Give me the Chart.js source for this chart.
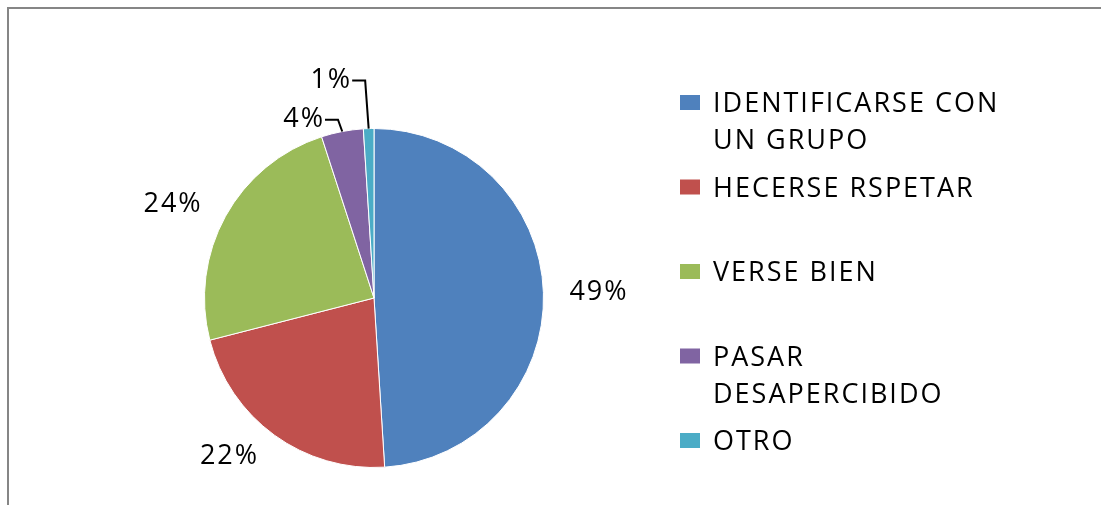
<!DOCTYPE html>
<html>
<head>
<meta charset="utf-8">
<script src="https://cdn.jsdelivr.net/npm/chart.js@4"></script>
<style>
  body { margin: 0; background: #fff; }
  #wrap { position: relative; width: 1101px; height: 505px; overflow: hidden; }
  #frame { position: absolute; left: 7px; top: 7px; width: 1200px; height: 600px; border: 2px solid #868686; }
  canvas { position: absolute; left: 0; top: 0; }
</style>
</head>
<body>
<div id="wrap">
  <div id="frame"></div>
  <canvas id="pie" width="1101" height="505"></canvas>
</div>
<script>
const categories = [
    ["IDENTIFICARSE CON", "UN GRUPO"],
    ["HECERSE RSPETAR"],
    ["VERSE BIEN"],
    ["PASAR", "DESAPERCIBIDO"],
    ["OTRO"]
]
const percents = [49, 22, 24, 4, 1]
const colors = ["#4F81BD", "#C0504D", "#9BBB59", "#8064A2", "#4BACC6"]

const FONT = "27px 'Open Sans'"
const SPACING = "2px"

// percentage labels outside the slices, small ones get a leader line
const outsideLabels = {
    id: "outsideLabels",
    afterDatasetsDraw(chart) {
        const ctx = chart.ctx
        const arcs = chart.getDatasetMeta(0).data
        const vals = chart.data.datasets[0].data
        ctx.save()
        ctx.font = FONT
        ctx.letterSpacing = SPACING
        ctx.fillStyle = "#000"
        ctx.strokeStyle = "#000"
        ctx.lineWidth = 2
        ctx.textBaseline = "middle"
        let small = 0
        arcs.forEach((arc, i) => {
            const mid = (arc.startAngle + arc.endAngle) / 2
            const dx = Math.cos(mid), dy = Math.sin(mid)
            const r = arc.outerRadius
            const txt = vals[i] + "%"
            if (vals[i] < 5) {
                // first small slice gets a short leader, next one a long one
                const len = small === 0 ? 12 : 48
                small++
                const ex = arc.x + dx * r, ey = arc.y + dy * r
                const kx = ex + dx * len - 2, ky = ey + dy * len
                ctx.beginPath()
                ctx.moveTo(ex, ey)
                ctx.lineTo(kx, ky)
                ctx.lineTo(kx - 13, ky)
                ctx.stroke()
                ctx.textAlign = "right"
                ctx.fillText(txt, kx - 13, ky)
            } else {
                const x = arc.x + dx * (r + 26)
                const y = arc.y + dy * (r + 26)
                ctx.textAlign = dx > 0.3 ? "left" : (dx < -0.3 ? "right" : "center")
                ctx.fillText(txt, x, y)
            }
        })
        ctx.restore()
    }
}

// legend on the right, drawn by hand so entries can wrap and spread out
const sideLegend = {
    id: "sideLegend",
    afterDraw(chart) {
        const ctx = chart.ctx
        const x = 680, top = 95, step = 84.5
        ctx.save()
        ctx.font = FONT
        ctx.letterSpacing = SPACING
        ctx.textAlign = "left"
        ctx.textBaseline = "alphabetic"
        chart.data.labels.forEach((lines, i) => {
            const y = top + i * step
            ctx.fillStyle = chart.data.datasets[0].backgroundColor[i]
            ctx.fillRect(x, y, 20, 15)
            ctx.fillStyle = "#000"
            lines.forEach((ln, j) => {
                ctx.fillText(ln, x + 33, y + 17 + j * 37)
            })
        })
        ctx.restore()
    }
}

new Chart("pie", {
    type: "pie",
    data: {
        labels: categories,
        datasets: [{
            data: percents,
            backgroundColor: colors,
            borderColor: "#ffffff",
            borderWidth: 1
        }]
    },
    options: {
        responsive: false,
        animation: false,
        layout: {
            padding: { left: 204, right: 557, top: 128, bottom: 37 }
        },
        plugins: {
            legend: { display: false },
            tooltip: { enabled: false }
        }
    },
    plugins: [outsideLabels, sideLegend]
});
</script>
</body>
</html>
